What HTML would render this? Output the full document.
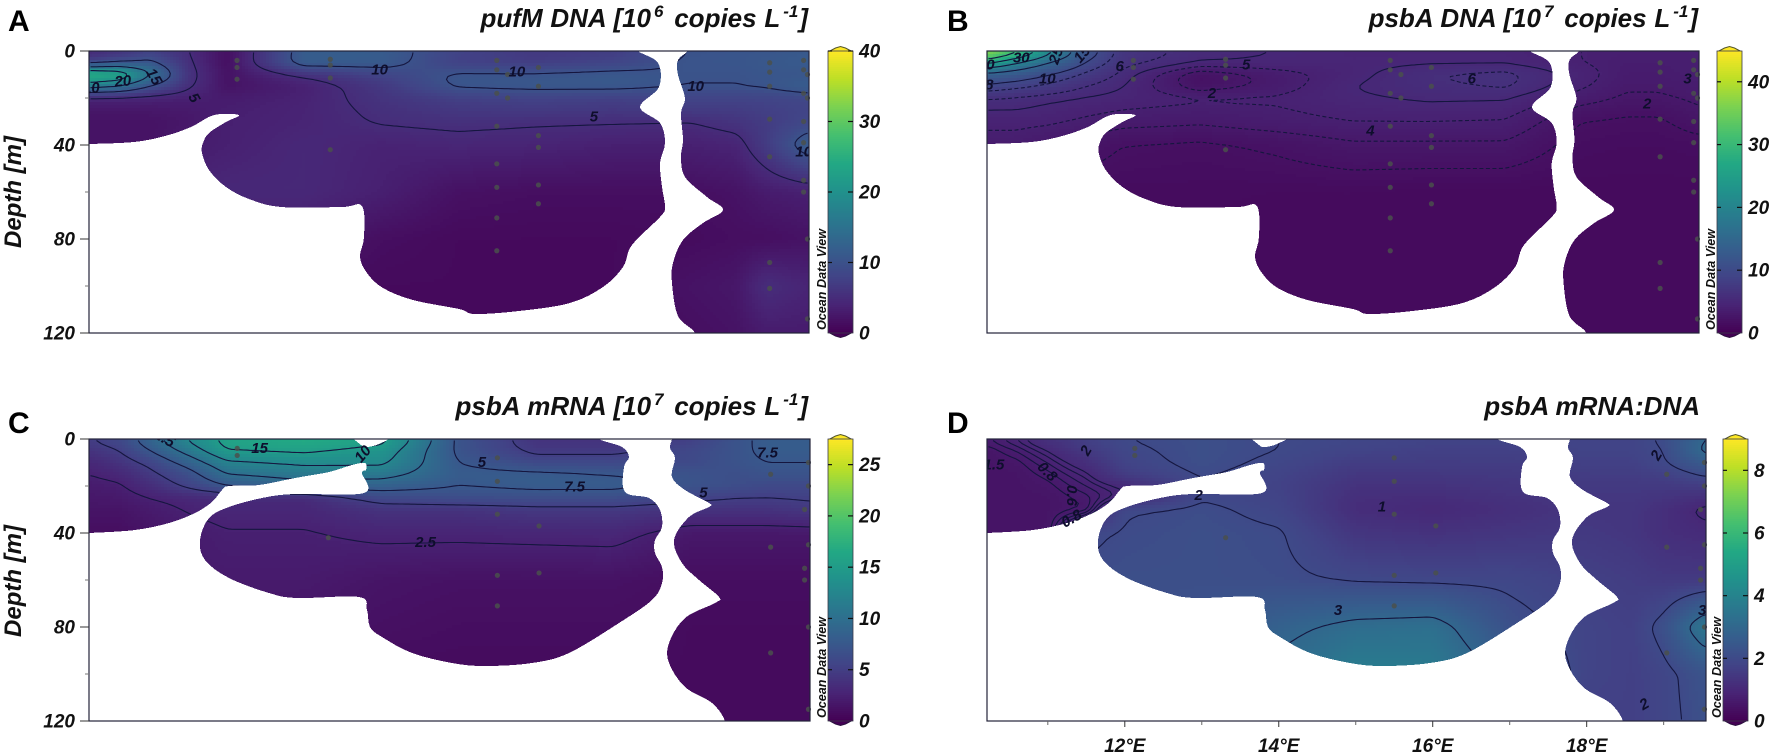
<!DOCTYPE html>
<html lang="en">
<head>
<meta charset="utf-8">
<title>Ocean Data View depth sections</title>
<style>
html,body{margin:0;padding:0;background:#fff;}
svg{display:block;}
text{font-family:"Liberation Sans",sans-serif;font-weight:bold;font-style:italic;fill:#111;}
.letter{font-style:normal;font-size:30px;fill:#000;}
.title{font-size:26px;word-spacing:0.5px;}
.axis{font-size:19px;}
.ytitle{font-size:24px;}
.odv{font-size:12.6px;font-weight:bold;}
.clabel{font-size:15px;fill:#0e0e2c;}
</style>
</head>
<body>
<svg id="chart" width="1772" height="755" viewBox="0 0 1772 755" xmlns="http://www.w3.org/2000/svg">
<rect width="1772" height="755" fill="#fff"/>
<defs>
<clipPath id="clip-a"><rect x="89" y="51" width="720" height="282"/></clipPath>
<clipPath id="clip-b"><rect x="987" y="51" width="712" height="282"/></clipPath>
<clipPath id="clip-c"><rect x="89" y="439" width="721" height="282"/></clipPath>
<clipPath id="clip-d"><rect x="987" y="439" width="719" height="282"/></clipPath>
</defs>

<text class="letter" x="8" y="31">A</text>
<text class="letter" x="947" y="31">B</text>
<text class="letter" x="8" y="433">C</text>
<text class="letter" x="947" y="433">D</text>

<text class="title" x="808" y="27" text-anchor="end">pufM DNA [10<tspan dx="3" dy="-10" font-size="17">6</tspan><tspan dx="3" dy="10"> copies L</tspan><tspan dx="3" dy="-10" font-size="17">-1</tspan><tspan dx="1" dy="10">]</tspan></text>
<text class="title" x="1698" y="27" text-anchor="end">psbA DNA [10<tspan dx="3" dy="-10" font-size="17">7</tspan><tspan dx="3" dy="10"> copies L</tspan><tspan dx="3" dy="-10" font-size="17">-1</tspan><tspan dx="1" dy="10">]</tspan></text>
<text class="title" x="808" y="415" text-anchor="end">psbA mRNA [10<tspan dx="3" dy="-10" font-size="17">7</tspan><tspan dx="3" dy="10"> copies L</tspan><tspan dx="3" dy="-10" font-size="17">-1</tspan><tspan dx="1" dy="10">]</tspan></text>
<text class="title" x="1700" y="415" text-anchor="end" style="word-spacing:0">psbA mRNA:DNA</text>

<text class="ytitle" transform="translate(21,192) rotate(-90)" text-anchor="middle">Depth [m]</text>
<text class="ytitle" transform="translate(21,581) rotate(-90)" text-anchor="middle">Depth [m]</text>

<!-- Panel A -->
<g>
  <g id="field-a" shape-rendering="crispEdges"></g>
  <g id="contours-a" fill="none" stroke="#15163f" stroke-width="1.1"></g>
  <g clip-path="url(#clip-a)">
  <path class="mask" transform="translate(89,51)" fill="#fff" shape-rendering="crispEdges" d="M-10,93 L0,93 45,91 76,85 102,76 125,64 150,64 137,71 120,82 114,92 113,102 120,119 137,136 160,148 192,156 253,156 273,155 275,186 271,206 278,222 294,237 324,249 370,258 386,263 430,260 481,252 514,236 534,216 543,194 571,166 576,156 573,136 571,112 576,92 571,72 551,56 570,36 569,12 549,0 549,-8 599,-8 599,0 589,9 589,24 596,47 592,62 594,89 592,106 596,126 618,146 634,159 614,172 594,189 584,212 583,232 589,265 606,282 606,300 -10,300 Z"/>
  </g>
  <g id="stations-a"></g>
  <g id="labels-a" clip-path="url(#clip-a)"></g>
  <rect x="89" y="51" width="720" height="282" fill="none" stroke="#23233a" stroke-width="1.2"/>
  <g id="yaxis-a"></g>
  <g id="cbar-a"></g>
</g>

<!-- Panel B -->
<g>
  <g id="field-b" shape-rendering="crispEdges"></g>
  <g id="contours-b" fill="none" stroke="#15163f" stroke-width="1.1"></g>
  <g clip-path="url(#clip-b)">
  <path class="mask" transform="translate(987,51) scale(0.989,1)" fill="#fff" shape-rendering="crispEdges" d="M-10,93 L0,93 45,91 76,85 102,76 125,64 150,64 137,71 120,82 114,92 113,102 120,119 137,136 160,148 192,156 253,156 273,155 275,186 271,206 278,222 294,237 324,249 370,258 386,263 430,260 481,252 514,236 534,216 543,194 571,166 576,156 573,136 571,112 576,92 571,72 551,56 570,36 569,12 549,0 549,-8 599,-8 599,0 589,9 589,24 596,47 592,62 594,89 592,106 596,126 618,146 634,159 614,172 594,189 584,212 583,232 589,265 606,282 606,300 -10,300 Z"/>
  </g>
  <g id="stations-b"></g>
  <g id="labels-b" clip-path="url(#clip-b)"></g>
  <rect x="987" y="51" width="712" height="282" fill="none" stroke="#23233a" stroke-width="1.2"/>
  <g id="cbar-b"></g>
</g>

<!-- Panel C -->
<g>
  <g id="field-c" shape-rendering="crispEdges"></g>
  <g id="contours-c" fill="none" stroke="#15163f" stroke-width="1.1"></g>
  <g clip-path="url(#clip-c)">
  <path class="mask" transform="translate(89,439)" fill="#fff" shape-rendering="crispEdges" d="M-10,94 L0,94 46,91 80,84 106,74 123,63 133,51 140,47 170,46 206,39 240,33 263,26 276,24 277,31 273,34 275,54 206,55 173,59 140,68 120,79 111,101 116,121 140,139 180,154 208,159 270,158 278,171 281,188 293,198 323,214 363,224 396,227 443,224 480,214 530,184 563,161 573,144 573,128 566,114 566,101 573,88 571,71 560,59 536,53 535,28 540,18 533,8 510,0 510,-8 583,-8 583,0 581,9 586,19 583,38 596,51 620,64 620,68 600,78 585,101 593,124 610,141 630,158 626,164 596,179 580,204 580,224 596,248 623,264 636,282 636,300 -10,300 Z M265,-4 L272,6 278,8 290,5 303,-4 Z"/>
  </g>
  <g id="stations-c"></g>
  <g id="labels-c" clip-path="url(#clip-c)"></g>
  <rect x="89" y="439" width="721" height="282" fill="none" stroke="#23233a" stroke-width="1.2"/>
  <g id="yaxis-c"></g>
  <g id="cbar-c"></g>
</g>

<!-- Panel D -->
<g>
  <g id="field-d" shape-rendering="crispEdges"></g>
  <g id="contours-d" fill="none" stroke="#15163f" stroke-width="1.1"></g>
  <g clip-path="url(#clip-d)">
  <path class="mask" transform="translate(987,439)" fill="#fff" shape-rendering="crispEdges" d="M-10,94 L0,94 46,91 80,84 106,74 123,63 133,51 140,47 170,46 206,39 240,33 263,26 276,24 277,31 273,34 275,54 206,55 173,59 140,68 120,79 111,101 116,121 140,139 180,154 208,159 270,158 278,171 281,188 293,198 323,214 363,224 396,227 443,224 480,214 530,184 563,161 573,144 573,128 566,114 566,101 573,88 571,71 560,59 536,53 535,28 540,18 533,8 510,0 510,-8 583,-8 583,0 581,9 586,19 583,38 596,51 620,64 620,68 600,78 585,101 593,124 610,141 630,158 626,164 596,179 580,204 580,224 596,248 623,264 636,282 636,300 -10,300 Z M265,-4 L272,6 278,8 290,5 303,-4 Z"/>
  </g>
  <g id="stations-d"></g>
  <g id="labels-d" clip-path="url(#clip-d)"></g>
  <rect x="987" y="439" width="719" height="282" fill="none" stroke="#23233a" stroke-width="1.2"/>
  <g id="xaxis-d"></g>
  <g id="cbar-d"></g>
</g>
</svg>

<script>
// ---------- shared axes ----------
const lonNodes = [10.2,10.6,11,11.5,12,13,14,15,16,17,18,18.6,19,19.55];
const depthNodes = [0,5,10,15,20,25,30,40,60,80,100,120];
const depthTicks = [0,40,80,120];
const depthMinorTicks = [20,60,100];
const lonTicks = [12,14,16,18];
const lonMinorTicks = [11,13,15,17,19];

// ---------- measured fields (rows = depthNodes, columns = lonNodes) ----------
const fieldA = [
 [4,5,7,5,1.5,11.5,11.5,8,6.5,7,10,10.5,10.5,11],
 [8,10,11,5.5,1.5,12,11.5,7.5,7,8,10.5,10.5,11,11.5],
 [27,25,16,6,2,5.5,8,10.5,10.5,11,10.2,10.2,10.5,10.5],
 [17,15,10,5.5,2,3.5,6.5,10.5,11,11,10,10,10.5,12],
 [4,4,3.8,3.5,3,3.8,6,7.5,7.8,7.5,8,8,8,8.5],
 [2.5,2.5,2.5,2.8,3.3,4,5.5,6.5,6.8,6.5,7,7,7.5,8],
 [2,2,2,2.5,3.5,4,5.2,5.6,5.3,5.2,5,6,7,8.5],
 [2,2,2,3,3.5,4.5,3.8,4.2,4,3.5,3.5,4,7,12],
 [3,3,3,4,4.5,4.5,3.5,1.8,1.5,1.5,1.5,2,3,3.5],
 [3,3,3,3,3,3,1.5,1,1,1,1.2,1.5,1.5,2],
 [1,1,1,1,1,1,1,1,1,1,2,2.5,5.2,4],
 [1,1,1,1,1,1,1,1,1,1,1.5,2,3,3]
];
const fieldB = [
 [40,33,23,12,7,5.5,5,4.6,4.6,4.6,4,3.8,3.8,3.8],
 [26,20,15,10,6.5,5,4.8,4.7,4.8,4.8,4,3.6,3.6,3.8],
 [13,12,10,7.5,5.5,2,3.4,4.6,6,6.5,4.5,3.4,3.4,3.8],
 [9.5,8.5,7.5,6,5,2.2,3.4,5,5.7,6.2,4.2,3.2,3.2,3.5],
 [6,5.7,5.3,4.9,4.6,4.2,4.2,4.8,5.2,5.1,3.5,2.8,2.8,3.2],
 [5,5,4.7,4.3,4,3.7,3.9,4.4,4.6,4.5,2.7,2.3,2.3,2.9],
 [4.3,4.3,4.2,3.8,3.4,3.2,3.6,4,4,3.9,2,1.8,1.8,2.5],
 [3.5,3.5,3,2.5,2,1.8,2.2,2.8,2.8,2.8,1.6,1.5,1.5,1.6],
 [1.5,1.5,1.5,1.5,1.4,1.4,1.3,1.3,1.2,1.2,1.2,1.2,1.2,1.2],
 [1.3,1.3,1.3,1.3,1.2,1.2,1.2,1.2,1.2,1.2,1.2,1.2,1.2,1.2],
 [1.2,1.2,1.2,1.2,1.2,1.2,1.2,1.2,1.2,1.2,1.2,1.2,1.2,1.2],
 [1.2,1.2,1.2,1.2,1.2,1.2,1.2,1.2,1.2,1.2,1.2,1.2,1.2,1.2]
];
const fieldC = [
 [5,6,9,13,16,17,16,7,4,4,5,7,8,8],
 [4,5,7.5,11,15,15.5,14,7,4.5,4.5,6,7,8,8],
 [3,4,5.5,8.5,12,13,13,7.5,6,6,6,7,7.5,7.5],
 [2.5,3,4.5,6.5,10,11,11,8,8,7.5,7,6.5,7,7],
 [2,2.3,3.5,5.5,7.5,9,8.5,7.5,8,8,7,6.5,6,6],
 [1.8,1.9,2.5,3,3.3,3.2,6,6.5,6.5,6.5,5.5,5,5,5.2],
 [1.5,1.5,2,2.6,3,3,4,4,4.5,4.5,4,4,4,4.5],
 [1,1,1.5,2,2.4,2.4,2.8,2.8,2.9,3,1.8,1.8,1.8,1.8],
 [1,1,1,2,2,2,1.5,1.3,1.3,1.3,1,1,1,1],
 [1,1,1,1,1.5,1.5,1.2,1,1,1,.8,.8,.8,.8],
 [.8,.8,.8,.8,.8,.8,.8,.8,.8,.8,.8,.8,.8,.8],
 [.8,.8,.8,.8,.8,.8,.8,.8,.8,.8,.8,.8,.8,.8]
];
const fieldD = [
 [.7,.95,1.3,1.7,2,2.15,2,1.9,1.8,1.8,1.8,1.8,2.1,3],
 [.5,.7,1,1.5,1.9,2.15,2,1.8,1.7,1.7,1.8,1.8,2,3.2],
 [.5,.55,.8,1.2,1.8,2.15,1.9,1.6,1.6,1.6,1.7,1.7,1.95,2.6],
 [.5,.5,.65,.95,1.6,2.05,1.8,1.45,1.45,1.5,1.6,1.6,1.7,2.1],
 [.5,.5,.55,.8,1.05,1.9,1.75,1.3,1.3,1.4,1.5,1.5,1.5,1.6],
 [.5,.5,.5,.65,.95,1.95,1.8,1.2,1.15,1.3,1.45,1.45,1.35,1.2],
 [.5,.5,.5,.6,1.95,2.1,1.85,1.15,1.02,1.2,1.4,1.4,1.2,.9],
 [.5,.5,.5,1.9,2.05,2.15,2.05,1.4,1.3,1.4,1.5,1.4,1.2,1.1],
 [.6,.6,.6,2.1,2.15,2.15,2.1,1.95,1.9,1.9,1.7,1.6,1.5,1.5],
 [1,1,1,2.1,2.1,2.3,2.8,3.2,3.3,2.2,1.8,1.7,2.2,3.6],
 [1,1,1,2.1,2.1,2.5,3.2,3.8,3.7,2.8,1.8,1.7,1.85,2.3],
 [1,1,1,2.1,2.1,2.5,3.2,3.8,3.7,2.8,1.7,1.7,1.85,2.2]
];

// ---------- colour bar ranges and ticks ----------
const cbarMaxA = 40, cbarMaxB = 44.9, cbarMaxC = 27.5, cbarMaxD = 9;
const cbarTicksA = [0,10,20,30,40];
const cbarTicksB = [0,10,20,30,40];
const cbarTicksC = [0,5,10,15,20,25];
const cbarTicksD = [0,2,4,6,8];

// ---------- contour levels ----------
const levelsA = [5,10,15,20,25];
const levelsB = [2,3,4,5,6,8,10,15,20,25,30];
const dashedLevelsB = [2,3,4,6,8];
const levelsC = [2.5,5,7.5,10,12.5,15];
const levelsD = [0.6,0.7,0.8,0.9,1,2,3];

// ---------- contour labels: text, lon, depth, rotation ----------
const labelTextA = ['20','15','10','5','10','10','5','10','10'];
const labelLonA = [10.65,11.05,10.24,11.57,13.98,15.76,16.76,18.08,19.48];
const labelDepthA = [13,11,16,20,8,9,28,15,43];
const labelRotA = [-5,60,-5,60,0,0,0,0,0];
const labelTextB = ['30','25','15','10','10','8','6','5','2','6','3','2','4'];
const labelLonB = [10.66,11.12,11.46,10.2,11.0,10.24,11.95,13.61,13.16,16.57,19.4,18.87,15.24];
const labelDepthB = [3,2,1.5,6,12,14.5,6.5,6,18,12,12,22.5,34];
const labelRotB = [0,-70,-50,0,0,0,0,0,0,0,0,0,0];
const labelTextC = ['12.5','15','10','5','7.5','2.5','7.5','5'];
const labelLonC = [11.14,12.42,13.76,15.3,16.5,14.57,19.0,18.17];
const labelDepthC = [-1,4,6.5,10,20.5,44,6,23];
const labelRotC = [30,0,-50,0,0,0,0,0];
const labelTextD = ['2','1.5','0.8','0.6','0.8','2','3','1','2','2','3'];
const labelLonD = [11.5,10.3,10.99,11.31,11.31,12.96,14.77,15.34,18.75,18.91,19.5];
const labelDepthD = [5,11,14,24,34,24,73,29,113,7,73];
const labelRotD = [-60,0,45,90,-30,0,0,0,-30,-60,0];

// ---------- sampling stations (lon + depths) ----------
const stationLonsAB = [12.13,13.34,15.5,15.64,16.04,19.04,19.48,19.53];
const stationDepthsAB = [
 [4,7,12],[3.5,6,11.5,42],[4,8,18,32,48,58,71,85],[10,20],
 [7,15,36,41,57,65],[5,9,15,29,45,90,101],[4,8,18,30,39,55,60],[10,20,80,114]
];
const stationLonsCD = [12.13,13.31,15.5,16.04,19.04,19.48,19.53];
const stationDepthsCD = [
 [4,7],[42],[8,18,32,58,71],[37,57],[15,46,91],[30,55,60],[10,20,45,80,115]
];

// ---------- viridis ----------
const viridisStops = ['#440154','#482475','#414487','#355f8d','#2a788e','#21918c','#22a884','#44bf70','#7ad151','#bddf26','#fde725'];
function hexToRgb(h){return [parseInt(h.slice(1,3),16),parseInt(h.slice(3,5),16),parseInt(h.slice(5,7),16)];}
const viridisRgb = viridisStops.map(hexToRgb);
function viridis(t){
  t = Math.max(0,Math.min(1,t));
  const p = t*(viridisRgb.length-1), i = Math.min(viridisRgb.length-2,Math.floor(p)), f = p-i;
  const a = viridisRgb[i], b = viridisRgb[i+1];
  return 'rgb('+Math.round(a[0]+(b[0]-a[0])*f)+','+Math.round(a[1]+(b[1]-a[1])*f)+','+Math.round(a[2]+(b[2]-a[2])*f)+')';
}

// ---------- helpers ----------
const NS = 'http://www.w3.org/2000/svg';
const LON_MIN = 10.21, LON_MAX = 19.55, DEPTH_MAX = 120, STEP = 3;
function svgEl(tag){return document.createElementNS(NS,tag);}
function nodeIndex(nodes,v){
  let i = 0;
  while(i < nodes.length-2 && v > nodes[i+1]) i++;
  return [i, Math.max(0,Math.min(1,(v-nodes[i])/(nodes[i+1]-nodes[i])))];
}
function sampleField(field,lon,depth){
  const [i,fx] = nodeIndex(lonNodes,lon);
  const [j,fy] = nodeIndex(depthNodes,depth);
  const top = field[j][i]*(1-fx)+field[j][i+1]*fx;
  const bot = field[j+1][i]*(1-fx)+field[j+1][i+1]*fx;
  return top*(1-fy)+bot*fy;
}
function blurGrid(g,cols,rows,r){
  let out = g.slice();
  for(let pass=0;pass<2;pass++){
    const tmp = new Float64Array(g.length);
    for(let y=0;y<rows;y++)for(let x=0;x<cols;x++){
      let s=0,n=0;
      for(let k=-r;k<=r;k++){const xx=Math.max(0,Math.min(cols-1,x+k));s+=out[y*cols+xx];n++;}
      tmp[y*cols+x]=s/n;
    }
    const tmp2 = new Float64Array(g.length);
    for(let y=0;y<rows;y++)for(let x=0;x<cols;x++){
      let s=0,n=0;
      for(let k=-r;k<=r;k++){const yy=Math.max(0,Math.min(rows-1,y+k));s+=tmp[yy*cols+x];n++;}
      tmp2[y*cols+x]=s/n;
    }
    out = tmp2;
  }
  return out;
}
function contourPath(grid,cols,rows,level,left,top){
  const segs = [];
  for(let y=0;y<rows-1;y++)for(let x=0;x<cols-1;x++){
    const a=grid[y*cols+x],b=grid[y*cols+x+1],c=grid[(y+1)*cols+x+1],d=grid[(y+1)*cols+x];
    const pts=[];
    if((a<level)!==(b<level))pts.push([x+(level-a)/(b-a),y]);
    if((b<level)!==(c<level))pts.push([x+1,y+(level-b)/(c-b)]);
    if((d<level)!==(c<level))pts.push([x+(level-d)/(c-d),y+1]);
    if((a<level)!==(d<level))pts.push([x,y+(level-a)/(d-a)]);
    if(pts.length>=2)segs.push([pts[0],pts[1]]);
    if(pts.length===4)segs.push([pts[2],pts[3]]);
  }
  const key = p => p[0].toFixed(3)+'_'+p[1].toFixed(3);
  const adj = new Map();
  segs.forEach((s,i)=>{[key(s[0]),key(s[1])].forEach(k=>{if(!adj.has(k))adj.set(k,[]);adj.get(k).push(i);});});
  const used = new Array(segs.length).fill(false);
  const px = p => (left+(p[0]+0.5)*STEP).toFixed(1)+','+(top+(p[1]+0.5)*STEP).toFixed(1);
  function extend(line){
    for(;;){
      const k = key(line[line.length-1]);
      const next = (adj.get(k)||[]).find(i=>!used[i]);
      if(next===undefined)return;
      used[next]=true;
      line.push(key(segs[next][0])===k?segs[next][1]:segs[next][0]);
    }
  }
  let d='';
  segs.forEach((s,i)=>{
    if(used[i])return;
    used[i]=true;
    const line=[s[0],s[1]];
    extend(line);
    line.reverse();
    extend(line);
    d+='M'+line.map(px).join('L');
  });
  return d;
}

// Round the seafloor outlines with a closed Catmull-Rom curve.
function smoothOutline(d){
  return d.split('M').filter(s=>s.trim()).map(sub=>{
    const nums = sub.match(/-?\d+(\.\d+)?/g).map(Number);
    const p = [];
    for(let i=0;i<nums.length;i+=2)p.push([nums[i],nums[i+1]]);
    const n = p.length;
    let out = 'M'+p[0][0]+','+p[0][1];
    for(let i=0;i<n;i++){
      const p0=p[(i-1+n)%n],p1=p[i],p2=p[(i+1)%n],p3=p[(i+2)%n];
      const c1x=p1[0]+(p2[0]-p0[0])/6,c1y=p1[1]+(p2[1]-p0[1])/6;
      const c2x=p2[0]-(p3[0]-p1[0])/6,c2y=p2[1]-(p3[1]-p1[1])/6;
      out+='C'+c1x.toFixed(1)+','+c1y.toFixed(1)+' '+c2x.toFixed(1)+','+c2y.toFixed(1)+' '+p2[0]+','+p2[1];
    }
    return out+'Z';
  }).join('');
}
document.querySelectorAll('path.mask').forEach(m=>m.setAttribute('d',smoothOutline(m.getAttribute('d'))));

function drawPanel(cfg){
  const xScale = lon => cfg.left+(lon-LON_MIN)/(LON_MAX-LON_MIN)*cfg.width;
  const yScale = d => cfg.top+d/DEPTH_MAX*cfg.height;
  const cols = Math.ceil(cfg.width/STEP), rows = Math.ceil(cfg.height/STEP);
  let grid = new Float64Array(cols*rows);
  for(let y=0;y<rows;y++)for(let x=0;x<cols;x++){
    const lon = LON_MIN+((x+0.5)*STEP)/cfg.width*(LON_MAX-LON_MIN);
    const depth = ((y+0.5)*STEP)/cfg.height*DEPTH_MAX;
    grid[y*cols+x] = sampleField(cfg.field,lon,depth);
  }
  grid = blurGrid(grid,cols,rows,1);

  // heatmap cells, neighbouring cells of equal colour merged into runs
  const fieldG = document.getElementById('field-'+cfg.id);
  const frag = document.createDocumentFragment();
  for(let y=0;y<rows;y++){
    let start=0, q=Math.round(grid[y*cols]/cfg.max*255);
    for(let x=1;x<=cols;x++){
      const nq = x<cols?Math.round(grid[y*cols+x]/cfg.max*255):-1;
      if(nq!==q){
        const rect = svgEl('rect');
        
        
        rect.setAttribute('x',cfg.left+start*STEP);
        rect.setAttribute('y',cfg.top+y*STEP);
        rect.setAttribute('width',Math.min((x-start)*STEP,cfg.width-start*STEP));
        rect.setAttribute('height',Math.min(STEP,cfg.height-y*STEP));
        rect.setAttribute('fill',viridis(q/255));
        frag.appendChild(rect);
        start=x;q=nq;
      }
    }
  }
  fieldG.appendChild(frag);

  // contours
  const contourG = document.getElementById('contours-'+cfg.id);
  cfg.levels.forEach(level=>{
    const d = contourPath(grid,cols,rows,level,cfg.left,cfg.top);
    if(!d)return;
    const path = svgEl('path');
    
    
    path.setAttribute('d',d);
    if(cfg.dashed && cfg.dashed.includes(level))path.setAttribute('stroke-dasharray','4 2.5');
    contourG.appendChild(path);
  });

  // stations
  const stG = document.getElementById('stations-'+cfg.id);
  cfg.stationLons.forEach((lon,i)=>{
    cfg.stationDepths[i].forEach(depth=>{
      const c = svgEl('circle');
      
      
      c.setAttribute('cx',xScale(lon));
      c.setAttribute('cy',yScale(depth));
      c.setAttribute('r',2.6);
      c.setAttribute('fill','#4a504c');
      c.setAttribute('opacity','0.85');
      stG.appendChild(c);
    });
  });

  // contour labels
  const lblG = document.getElementById('labels-'+cfg.id);
  cfg.labelText.forEach((txt,i)=>{
    const t = svgEl('text');
    
    
    t.setAttribute('class','clabel');
    t.setAttribute('text-anchor','middle');
    t.setAttribute('dominant-baseline','central');
    t.setAttribute('transform','translate('+xScale(cfg.labelLon[i])+','+yScale(cfg.labelDepth[i])+') rotate('+cfg.labelRot[i]+')');
    t.textContent = txt;
    lblG.appendChild(t);
  });

  // colour bar
  const bar = document.getElementById('cbar-'+cfg.id);
  const bx = cfg.barLeft, bw = 25, by = cfg.top, bh = cfg.height;
  const barY = v => by+bh-v/cfg.max*bh;
  const capTop = svgEl('polygon');
  
  
  capTop.setAttribute('points',bx+','+(by+1)+' '+(bx+bw*0.3)+','+(by-3)+' '+(bx+bw/2)+','+(by-4.5)+' '+(bx+bw*0.7)+','+(by-3)+' '+(bx+bw)+','+(by+1));
  capTop.setAttribute('fill',viridis(1));
  capTop.setAttribute('stroke','#55562a');
  bar.appendChild(capTop);
  const capBot = svgEl('polygon');
  
  
  capBot.setAttribute('points',bx+','+(by+bh-1)+' '+(bx+bw*0.3)+','+(by+bh+3)+' '+(bx+bw/2)+','+(by+bh+4.5)+' '+(bx+bw*0.7)+','+(by+bh+3)+' '+(bx+bw)+','+(by+bh-1));
  capBot.setAttribute('fill',viridis(0));
  capBot.setAttribute('stroke','#2c1040');
  bar.appendChild(capBot);
  for(let yy=0;yy<bh;yy+=2){
    const r = svgEl('rect');
    
    
    r.setAttribute('x',bx);
    r.setAttribute('y',by+yy);
    r.setAttribute('width',bw);
    r.setAttribute('height',2);
    r.setAttribute('shape-rendering','crispEdges');
    r.setAttribute('fill',viridis(1-(yy+1)/bh));
    bar.appendChild(r);
  }
  const barFrame = svgEl('rect');
  
  
  barFrame.setAttribute('x',bx);
  barFrame.setAttribute('y',by);
  barFrame.setAttribute('width',bw);
  barFrame.setAttribute('height',bh);
  barFrame.setAttribute('fill','none');
  barFrame.setAttribute('stroke','#3a3a4a');
  barFrame.setAttribute('stroke-width','0.8');
  bar.appendChild(barFrame);
  cfg.ticks.forEach(v=>{
    const y = barY(v);
    if(v>0){
      const t1 = svgEl('line');
      
      
      t1.setAttribute('x1',bx);t1.setAttribute('x2',bx+4);t1.setAttribute('y1',y);t1.setAttribute('y2',y);
      t1.setAttribute('stroke','#111');t1.setAttribute('stroke-width','1.2');
      bar.appendChild(t1);
      const t2 = svgEl('line');
      
      
      t2.setAttribute('x1',bx+bw-5);t2.setAttribute('x2',bx+bw);t2.setAttribute('y1',y);t2.setAttribute('y2',y);
      t2.setAttribute('stroke','#111');t2.setAttribute('stroke-width','1.2');
      bar.appendChild(t2);
    }
    const txt = svgEl('text');
    
    
    txt.setAttribute('class','axis');
    txt.setAttribute('x',bx+bw+6);
    txt.setAttribute('y',y+6.5);
    txt.textContent = v;
    bar.appendChild(txt);
  });
  const odv = svgEl('text');
  
  
  odv.setAttribute('class','odv');
  odv.setAttribute('transform','translate('+(bx-2)+','+(by+bh-3)+') rotate(-90)');
  odv.textContent = 'Ocean Data View';
  bar.appendChild(odv);

  // depth axis
  if(cfg.yAxis){
    const yG = document.getElementById('yaxis-'+cfg.id);
    depthTicks.forEach(d=>{
      const t = svgEl('line');
      
      
      t.setAttribute('x1',cfg.left-9);t.setAttribute('x2',cfg.left);
      t.setAttribute('y1',yScale(d));t.setAttribute('y2',yScale(d));
      t.setAttribute('stroke','#333');t.setAttribute('stroke-width','1');
      yG.appendChild(t);
      const txt = svgEl('text');
      
      
      txt.setAttribute('class','axis');
      txt.setAttribute('x',cfg.left-14);
      txt.setAttribute('y',yScale(d)+6.5);
      txt.setAttribute('text-anchor','end');
      txt.textContent = d;
      yG.appendChild(txt);
    });
    depthMinorTicks.forEach(d=>{
      const t = svgEl('line');
      
      
      t.setAttribute('x1',cfg.left-4);t.setAttribute('x2',cfg.left);
      t.setAttribute('y1',yScale(d));t.setAttribute('y2',yScale(d));
      t.setAttribute('stroke','#777');t.setAttribute('stroke-width','1');
      yG.appendChild(t);
    });
  }

  // longitude axis
  if(cfg.xAxis){
    const xG = document.getElementById('xaxis-'+cfg.id);
    const base = cfg.top+cfg.height;
    lonTicks.forEach(lon=>{
      const t = svgEl('line');
      
      
      t.setAttribute('x1',xScale(lon));t.setAttribute('x2',xScale(lon));
      t.setAttribute('y1',base);t.setAttribute('y2',base+6);
      t.setAttribute('stroke','#333');t.setAttribute('stroke-width','1');
      xG.appendChild(t);
      const txt = svgEl('text');
      
      
      txt.setAttribute('class','axis');
      txt.setAttribute('x',xScale(lon));
      txt.setAttribute('y',base+31);
      txt.setAttribute('text-anchor','middle');
      txt.textContent = lon+'°E';
      xG.appendChild(txt);
    });
    lonMinorTicks.forEach(lon=>{
      const t = svgEl('line');
      
      
      t.setAttribute('x1',xScale(lon));t.setAttribute('x2',xScale(lon));
      t.setAttribute('y1',base);t.setAttribute('y2',base+4);
      t.setAttribute('stroke','#666');t.setAttribute('stroke-width','1');
      xG.appendChild(t);
    });
  }
}

drawPanel({id:'a',left:89,top:51,width:720,height:282,field:fieldA,max:cbarMaxA,levels:levelsA,ticks:cbarTicksA,barLeft:828,
  labelText:labelTextA,labelLon:labelLonA,labelDepth:labelDepthA,labelRot:labelRotA,
  stationLons:stationLonsAB,stationDepths:stationDepthsAB,yAxis:true});
drawPanel({id:'b',left:987,top:51,width:712,height:282,field:fieldB,max:cbarMaxB,levels:levelsB,dashed:dashedLevelsB,ticks:cbarTicksB,barLeft:1717,
  labelText:labelTextB,labelLon:labelLonB,labelDepth:labelDepthB,labelRot:labelRotB,
  stationLons:stationLonsAB,stationDepths:stationDepthsAB});
drawPanel({id:'c',left:89,top:439,width:721,height:282,field:fieldC,max:cbarMaxC,levels:levelsC,ticks:cbarTicksC,barLeft:828,
  labelText:labelTextC,labelLon:labelLonC,labelDepth:labelDepthC,labelRot:labelRotC,
  stationLons:stationLonsCD,stationDepths:stationDepthsCD,yAxis:true});
drawPanel({id:'d',left:987,top:439,width:719,height:282,field:fieldD,max:cbarMaxD,levels:levelsD,ticks:cbarTicksD,barLeft:1723,
  labelText:labelTextD,labelLon:labelLonD,labelDepth:labelDepthD,labelRot:labelRotD,
  stationLons:stationLonsCD,stationDepths:stationDepthsCD,xAxis:true});
</script>
</body>
</html>
